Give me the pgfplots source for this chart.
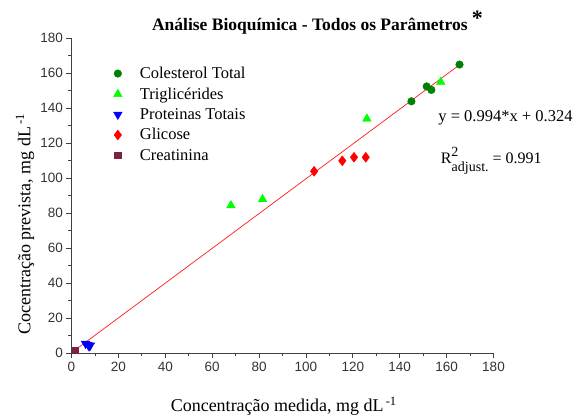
\documentclass[border=0pt]{standalone}
\usepackage{fontspec}
\setmainfont{Liberation Serif}
\setsansfont{Liberation Sans}
\usepackage{pgfplots}
\pgfplotsset{compat=1.18}
\definecolor{cgreen}{RGB}{0,128,0}
\definecolor{tgreen}{RGB}{0,255,0}
\definecolor{creat}{RGB}{125,35,60}
\begin{document}
\begin{tikzpicture}[x=1pt,y=1pt]
\path (0,0) rectangle (576,412);
\begin{axis}[
  at={(71.5pt,58.7pt)}, anchor=south west,
  scale only axis,
  width=422pt, height=315pt,
  xmin=0, xmax=180, ymin=0, ymax=180,
  axis lines=left,
  axis line style={-, black!75, line width=0.8pt},
  xtick={0,20,...,180}, ytick={0,20,...,180},
  minor x tick num=1, minor y tick num=1,
  tick align=outside,
  major tick length=5pt, minor tick length=3pt,
  tick style={black!75, line width=0.8pt},
  /pgf/number format/assume math mode=true,
  tick label style={font=\sffamily\fontsize{13.5}{15}\selectfont, black!80},
  clip=false,
  xlabel={Concentração medida, mg dL\textsuperscript{\,-1}},
  ylabel={Cocentração prevista, mg dL\textsuperscript{\,-1}},
  label style={font=\fontsize{18}{19}\selectfont},
  xlabel style={at={(axis description cs:0.503,-0.168)}, anchor=center},
  ylabel style={at={(axis description cs:-0.11,0.41)}, anchor=center},
  legend style={at={(0.092,0.922)}, anchor=north west, draw=none, fill=none,
    font=\fontsize{16.5}{17}\selectfont, row sep=3.7pt},
  legend cell align=left,
  legend image code/.code={
    \draw[mark repeat=2,mark phase=2,#1] plot coordinates {(0cm,0cm)(0.3cm,0cm)(0.6cm,0cm)};
    \path[draw=none] (0.3cm,0) -- (0.3cm+20pt,0);
  },
]
\addplot[only marks, mark=*, mark size=3.8pt, color=cgreen] coordinates {
  (145,144) (151.5,152.5) (153.5,150.5) (165.5,165)
};
\addlegendentry{Colesterol Total}
\addplot[only marks, mark=triangle*, mark size=5pt, color=tgreen] coordinates {
  (68,84.5) (81.5,88) (126,134) (157.5,155)
};
\addlegendentry{Triglicérides}
\addplot[only marks, mark=triangle*, mark options={rotate=180}, mark size=5pt, color=blue] coordinates {
  (6,5.5) (7,5) (8,4.5) (7.5,4)
};
\addlegendentry{Proteinas Totais}
\addplot[only marks, mark=diamond*, mark size=5pt, color=red] coordinates {
  (103.5,104) (115.5,110) (120.5,112) (125.5,112)
};
\addlegendentry{Glicose}
\addplot[only marks, mark=square*, mark size=3.2pt, color=creat] coordinates {
  (1.5,1.8)
};
\addlegendentry{Creatinina}
\addplot[red!90, line width=0.7pt, forget plot] coordinates {
  (1.5,1.815) (165.5,164.831)
};
\node[anchor=west, font=\fontsize{16.5}{18}\selectfont] at (axis cs:155,134.5) {y = 0.994*x + 0.324};
\node[anchor=west, font=\fontsize{16}{18}\selectfont] at (axis cs:156,110) {R\textsuperscript{\fontsize{14}{14}\selectfont 2}\hspace{-0.45em}\raisebox{-1.1ex}{\fontsize{14}{14}\selectfont adjust.} = 0.991};
\node[font=\bfseries\fontsize{17.5}{19}\selectfont] at (rel axis cs:0.583,1.05) {Análise Bioquímica - Todos os Parâmetros \raisebox{0.6ex}{\fontsize{22}{22}\selectfont *}};
\end{axis}
\end{tikzpicture}
\end{document}
